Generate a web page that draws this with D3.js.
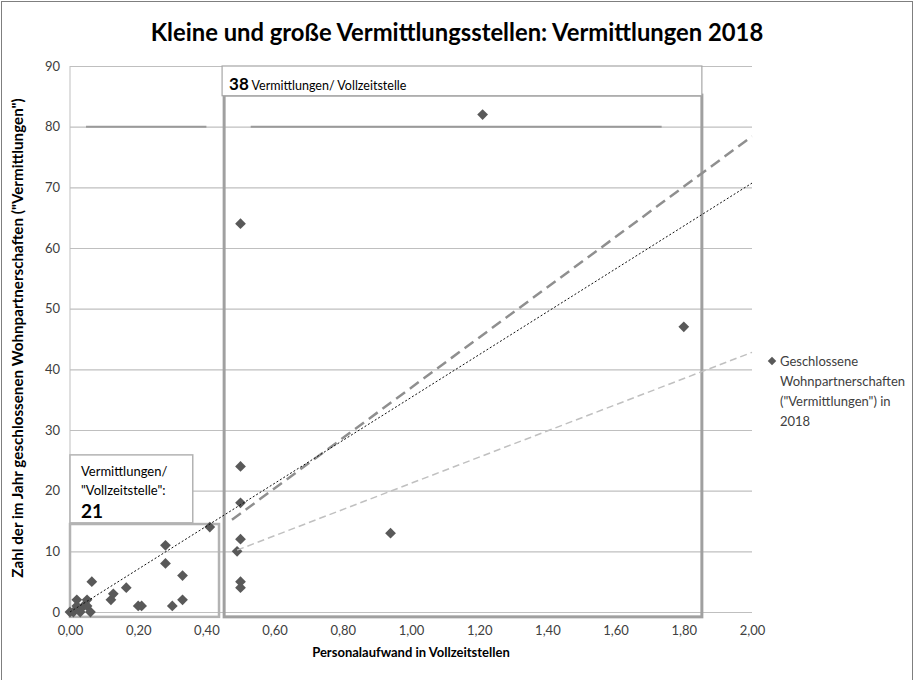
<!DOCTYPE html>
<html>
<head>
<meta charset="utf-8">
<script src="https://cdn.jsdelivr.net/npm/d3@7"></script>
<style>
  body { margin: 0; background: #fff; }
  text { font-family: Lato, "Open Sans", sans-serif; }
</style>
</head>
<body>
<div id="chart"></div>
<script>
// data (x = Vollzeitstellen, y = Vermittlungen)
var staffFte = [0, 0.01, 0.02, 0.02, 0.03, 0.04, 0.05, 0.05, 0.06, 0.064, 0.12, 0.127, 0.165, 0.20, 0.21, 0.28, 0.28, 0.30, 0.33, 0.33, 0.41,
                0.49, 0.50, 0.50, 0.50, 0.50, 0.50, 0.50, 0.94, 1.21, 1.80];
var placements = [0, 0, 2, 1, 0, 1, 2, 1, 0, 5, 2, 3, 4, 1, 1, 11, 8, 1, 6, 2, 14,
                  10, 64, 24, 18, 12, 5, 4, 13, 82, 47];

// trend lines: [x0, y0, x1, y1]
var trendAll = [0, 0, 2, 70.7];
var trendLarge = [0.475, 15.2, 2, 78.4];
var trendLargeNoTop = [0.49, 10.2, 2, 42.8];

var yTicks = [0, 10, 20, 30, 40, 50, 60, 70, 80, 90];
var xTicks = [0, 0.2, 0.4, 0.6, 0.8, 1.0, 1.2, 1.4, 1.6, 1.8, 2.0];

// annotation boxes in data units: [x0, y0, x1, y1]
var bigBox = [0.452, -0.8, 1.853, 85.2];
var bigLabelBox = [0.446, 85.1, 1.853, 90];
var smallBox = [0, -0.8, 0.437, 14.5];
var smallLabelBox = [0, 14.7, 0.36, 25.9];
var line80 = [[0.047, 0.40], [0.53, 1.735]];

var titleText = "Kleine und große Vermittlungsstellen: Vermittlungen 2018";
var xLabel = "Personalaufwand in Vollzeitstellen";
var yLabel = "Zahl der im Jahr geschlossenen Wohnpartnerschaften (\"Vermittlungen\")";
var legendLines = ["Geschlossene", "Wohnpartnerschaften", "(\"Vermittlungen\") in", "2018"];

var W = 914, H = 680;
var margin = {top: 66, right: 162, bottom: 68, left: 70},
    width = W - margin.left - margin.right,
    height = H - margin.top - margin.bottom;

var de = d3.formatLocale({decimal: ",", thousands: ".", grouping: [3], currency: ["", " €"]});

var svg = d3.select("#chart").append("svg")
    .attr("width", W)
    .attr("height", H);

// outer frame
svg.append("rect")
    .attr("x", 1.5).attr("y", 1.5)
    .attr("width", W - 3).attr("height", H + 10)
    .attr("fill", "none")
    .attr("stroke", "#7f7f7f")
    .attr("stroke-width", 1);

svg.append("text")
    .attr("x", 457).attr("y", 41)
    .attr("text-anchor", "middle")
    .attr("font-size", 23.8)
    .attr("font-weight", "bold")
    .attr("fill", "#000")
    .text(titleText);

var g = svg.append("g")
    .attr("transform", "translate(" + margin.left + "," + margin.top + ")");

var x = d3.scaleLinear().domain([0, 2]).range([0, width]);
var y = d3.scaleLinear().domain([0, 90]).range([height, 0]);

// horizontal gridlines + y labels
var yAxis = d3.axisLeft(y)
    .tickValues(yTicks)
    .tickSize(-width)
    .tickPadding(10)
    .tickFormat(d3.format("d"));

g.append("g")
    .attr("class", "y axis")
    .call(yAxis)
    .call(function(s) {
      s.select(".domain").remove();
      s.selectAll(".tick line").attr("stroke", "#bfbfbf").attr("stroke-width", 1.2);
      s.selectAll(".tick text").attr("fill", "#404040").attr("font-size", 13);
    });

// left edge of plot
g.append("line")
    .attr("x1", 0).attr("x2", 0)
    .attr("y1", 0).attr("y2", height)
    .attr("stroke", "#bfbfbf");

var xAxis = d3.axisBottom(x)
    .tickValues(xTicks)
    .tickSize(0)
    .tickPadding(14)
    .tickFormat(de.format(".2f"));

g.append("g")
    .attr("class", "x axis")
    .attr("transform", "translate(0," + height + ")")
    .call(xAxis)
    .call(function(s) {
      s.select(".domain").remove();
      s.selectAll(".tick text").attr("fill", "#404040").attr("font-size", 13);
    });

// darker segments on the 80 line
g.selectAll(".seg80")
    .data(line80)
  .enter().append("line")
    .attr("class", "seg80")
    .attr("x1", function(d) { return x(d[0]); })
    .attr("x2", function(d) { return x(d[1]); })
    .attr("y1", y(80)).attr("y2", y(80))
    .attr("stroke", "#9a9a9a")
    .attr("stroke-width", 2);

function boxRect(b, fill, stroke, sw) {
  g.append("rect")
      .attr("x", x(b[0]))
      .attr("y", y(b[3]))
      .attr("width", x(b[2]) - x(b[0]))
      .attr("height", y(b[1]) - y(b[3]))
      .attr("fill", fill)
      .attr("stroke", stroke)
      .attr("stroke-width", sw);
}

boxRect(smallBox, "none", "#b3b3b3", 2.5);
boxRect(bigBox, "none", "#a0a0a0", 3);
boxRect(bigLabelBox, "#fff", "#a6a6a6", 1.2);
boxRect(smallLabelBox, "#fff", "#b3b3b3", 1.5);

// box labels
var bl = g.append("text")
    .attr("x", x(bigLabelBox[0]) + 7)
    .attr("y", y(bigLabelBox[1]) - 6)
    .attr("fill", "#000");
bl.append("tspan").attr("font-size", 17).attr("font-weight", "bold").text("38");
bl.append("tspan").attr("font-size", 12.5).text(" Vermittlungen/ Vollzeitstelle");

var slx = x(smallLabelBox[0]) + 11;
var sly = y(smallLabelBox[3]);
g.append("text").attr("x", slx).attr("y", sly + 21).attr("font-size", 13).attr("fill", "#000").text("Vermittlungen/");
g.append("text").attr("x", slx).attr("y", sly + 40).attr("font-size", 13).attr("fill", "#000").text("\"Vollzeitstelle\":");
g.append("text").attr("x", slx).attr("y", sly + 63).attr("font-size", 19).attr("font-weight", "bold").attr("fill", "#000").text("21");

// points
var diamond = d3.symbol().type(d3.symbolSquare).size(58);
var pts = staffFte.map(function(v, i) { return {x: v, y: placements[i]}; });

g.selectAll(".pt")
    .data(pts)
  .enter().append("path")
    .attr("class", "pt")
    .attr("d", diamond)
    .attr("transform", function(d) { return "translate(" + x(d.x) + "," + y(d.y) + ") rotate(45)"; })
    .attr("fill", "#595959");

// trend lines
function trend(t, color, w, dash) {
  g.append("line")
      .attr("x1", x(t[0])).attr("y1", y(t[1]))
      .attr("x2", x(t[2])).attr("y2", y(t[3]))
      .attr("stroke", color)
      .attr("stroke-width", w)
      .attr("stroke-dasharray", dash);
}
trend(trendLargeNoTop, "#c0c0c0", 1.5, "7,4");
trend(trendLarge, "#8f8f8f", 2.5, "11,6");
trend(trendAll, "#111", 1, "2,2");

// axis titles
svg.append("text")
    .attr("x", margin.left + x(1.0))
    .attr("y", 657)
    .attr("text-anchor", "middle")
    .attr("font-size", 13)
    .attr("font-weight", "bold")
    .attr("fill", "#000")
    .text(xLabel);

svg.append("text")
    .attr("transform", "translate(23," + 338 + ") rotate(-90)")
    .attr("text-anchor", "middle")
    .attr("font-size", 15.2)
    .attr("font-weight", "bold")
    .attr("fill", "#000")
    .text(yLabel);

// legend
var lg = svg.append("g").attr("transform", "translate(772,361)");
lg.append("path")
    .attr("d", d3.symbol().type(d3.symbolSquare).size(36))
    .attr("transform", "rotate(45)")
    .attr("fill", "#595959");
lg.selectAll("text")
    .data(legendLines)
  .enter().append("text")
    .attr("x", 8)
    .attr("y", function(d, i) { return 5 + i * 20; })
    .attr("font-size", 13)
    .attr("fill", "#404040")
    .text(function(d) { return d; });
</script>
</body>
</html>
